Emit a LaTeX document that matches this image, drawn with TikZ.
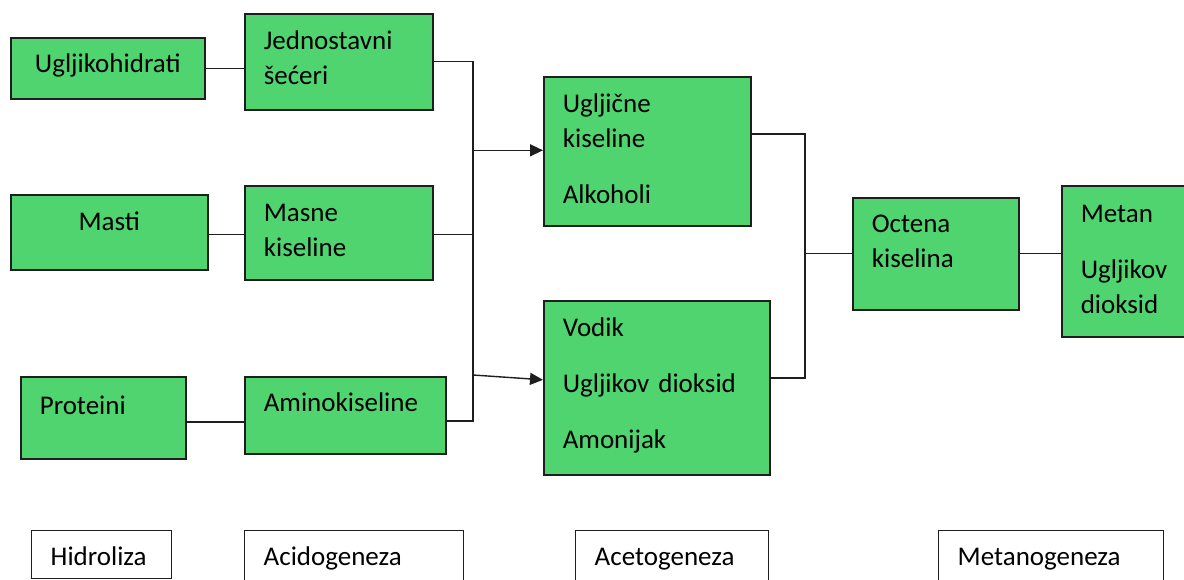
\documentclass[tikz,border=0pt]{standalone}
\usepackage{fontspec}
\setmainfont{Carlito}
\usetikzlibrary{arrows.meta,positioning,calc}
\definecolor{stagegreen}{RGB}{80, 212, 112}
\definecolor{edgegray}{RGB}{30, 30, 30}

\begin{document}
\begin{tikzpicture}[
    x=1pt, y=-1pt,
    stage/.style={draw=edgegray, fill=stagegreen, line width=1.6pt, anchor=north west, inner xsep=19pt, inner ysep=0pt, align=left, font=\fontsize{27}{35}\selectfont},
    phase/.style={draw=edgegray, fill=white, line width=1.4pt, anchor=north west, inner xsep=19pt, inner ysep=0pt, align=left, font=\fontsize{27}{35}\selectfont},
    link/.style={draw=edgegray, line width=1.4pt},
    arrow/.style={->, >={Triangle[length=13pt,width=12pt]}, draw=edgegray, line width=1.4pt}
]
    \useasboundingbox (0,0) rectangle (1184,580);

    % polazne tvari
    \node[stage, align=center, minimum width=194pt, text width=156pt, text height=35pt, text depth=26pt] (ugl) at (10,37) {Ugljikohidrati};
    \node[stage, align=center, minimum width=197pt, text width=159pt, text height=36pt, text depth=39pt] (masti) at (10,194) {Masti};
    \node[stage, minimum width=165pt, text width=127pt, text height=38pt, text depth=44pt] (prot) at (20,376) {Proteini};

    % hidroliza
    \node[stage, minimum width=188pt, text width=150pt, text height=36pt, text depth=60pt] (jed) at (244,13) {Jednostavni\\šećeri};
    \node[stage, minimum width=188pt, text width=150pt, text height=36pt, text depth=58pt] (masne) at (244,185) {Masne\\kiseline};
    \node[stage, minimum width=201pt, text width=163pt, text height=35pt, text depth=42pt] (amino) at (244,376) {Aminokiseline};

    % acidogeneza
    \node[stage, minimum width=207pt, text width=169pt, text height=36pt, text depth=113pt] (ugc) at (543,76) {Ugljične\\kiseline\\[21pt]Alkoholi};
    \node[stage, minimum width=226pt, text width=188pt, text height=36pt, text depth=138pt] (vod) at (543,300) {Vodik\\[21pt]Ugljikov dioksid\\[21pt]Amonijak};

    % acetogeneza i metanogeneza
    \node[stage, minimum width=166pt, text width=128pt, text height=35pt, text depth=77pt] (oct) at (852,197) {Octena\\kiselina};
    \node[stage, minimum width=140pt, text width=102pt, text height=37pt, text depth=114pt] (met) at (1061,185) {Metan\\[21pt]Ugljikov\\dioksid};

    % faze
    \node[phase, minimum width=140pt, text width=102pt, text height=35pt, text depth=13pt] (hid) at (31,530) {Hidroliza};
    \node[phase, minimum width=219pt, text width=181pt, text height=35pt, text depth=30pt] (acid) at (244,530) {Acidogeneza};
    \node[phase, minimum width=193pt, text width=155pt, text height=35pt, text depth=30pt] (acet) at (575,530) {Acetogeneza};
    \node[phase, minimum width=225pt, text width=187pt, text height=35pt, text depth=30pt] (metano) at (938,530) {Metanogeneza};

    % sabirnice
    \coordinate (busbot) at (473,421);
    \coordinate (busarr) at (473,375);
    \coordinate (acetop) at (805,134);
    \coordinate (acebot) at (805,378);

    % veze
    \draw[link] (ugl.east) -- (ugl.east -| jed.west);
    \draw[link] ([yshift=-2pt]masti.east) -- ([yshift=-2pt]masti.east -| masne.west);
    \draw[link] ([yshift=-4pt]prot.east) -- ([yshift=-4pt]prot.east -| amino.west);
    \draw[link] (jed.east) -- (jed.east -| busbot) -- (busbot) -- (busbot -| amino.east);
    \draw[link] ([yshift=-2pt]masne.east) -- ([yshift=-2pt]masne.east -| busbot);
    \draw[arrow] ([yshift=1pt]ugc.west -| busbot) -- ([yshift=1pt]ugc.west);
    \draw[arrow] (busarr) -- ([yshift=8pt]vod.west);
    \draw[link] (acetop -| ugc.east) -- (acetop) -- (acebot) -- (acebot -| vod.east);
    \draw[link] (acetop |- oct.west) -- (oct.west);
    \draw[link] (oct.east) -- (oct.east -| met.west);
\end{tikzpicture}
\end{document}
